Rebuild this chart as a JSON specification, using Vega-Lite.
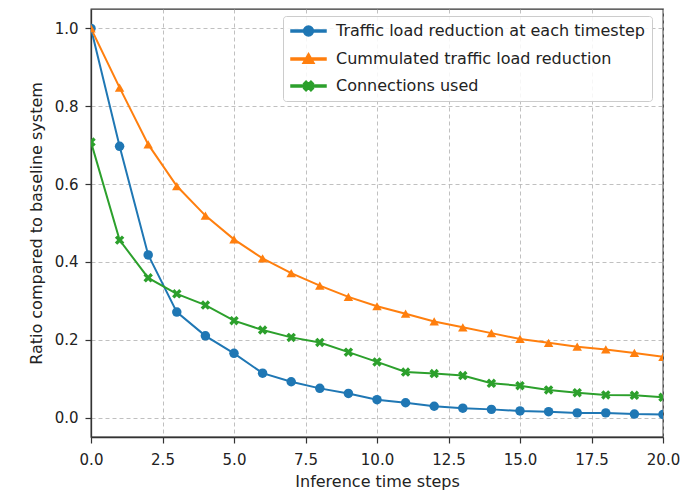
{
  "$schema": "https://vega.github.io/schema/vega-lite/v6.json",
  "autosize": "none",
  "width": 572,
  "height": 428,
  "padding": {"left": 91, "top": 9, "right": 35, "bottom": 53},
  "config": {
    "font": "DejaVu Sans",
    "view": {"stroke": "#333333", "strokeWidth": 1.3},
    "axis": {
      "labelFont": "DejaVu Sans", "titleFont": "DejaVu Sans",
      "labelFontSize": 15, "titleFontSize": 16,
      "labelColor": "#222222", "titleColor": "#222222",
      "titleFontWeight": "normal",
      "tickColor": "#333333", "tickSize": 6, "tickWidth": 1.2,
      "domainColor": "#333333", "domainWidth": 1.3,
      "gridColor": "#b0b0b0", "gridDash": [4, 3], "gridWidth": 0.8
    },
    "legend": {
      "labelFont": "DejaVu Sans", "labelFontSize": 16, "labelColor": "#222222"
    }
  },
  "data": {
    "values": [
      {"step": 0, "series": "Traffic load reduction at each timestep", "value": 1.0},
      {"step": 1, "series": "Traffic load reduction at each timestep", "value": 0.697},
      {"step": 2, "series": "Traffic load reduction at each timestep", "value": 0.418},
      {"step": 3, "series": "Traffic load reduction at each timestep", "value": 0.271},
      {"step": 4, "series": "Traffic load reduction at each timestep", "value": 0.21},
      {"step": 5, "series": "Traffic load reduction at each timestep", "value": 0.165},
      {"step": 6, "series": "Traffic load reduction at each timestep", "value": 0.114},
      {"step": 7, "series": "Traffic load reduction at each timestep", "value": 0.092},
      {"step": 8, "series": "Traffic load reduction at each timestep", "value": 0.075},
      {"step": 9, "series": "Traffic load reduction at each timestep", "value": 0.062},
      {"step": 10, "series": "Traffic load reduction at each timestep", "value": 0.046},
      {"step": 11, "series": "Traffic load reduction at each timestep", "value": 0.038},
      {"step": 12, "series": "Traffic load reduction at each timestep", "value": 0.029},
      {"step": 13, "series": "Traffic load reduction at each timestep", "value": 0.024},
      {"step": 14, "series": "Traffic load reduction at each timestep", "value": 0.021},
      {"step": 15, "series": "Traffic load reduction at each timestep", "value": 0.017},
      {"step": 16, "series": "Traffic load reduction at each timestep", "value": 0.015},
      {"step": 17, "series": "Traffic load reduction at each timestep", "value": 0.012},
      {"step": 18, "series": "Traffic load reduction at each timestep", "value": 0.012},
      {"step": 19, "series": "Traffic load reduction at each timestep", "value": 0.009},
      {"step": 20, "series": "Traffic load reduction at each timestep", "value": 0.008},
      {"step": 0, "series": "Cummulated traffic load reduction", "value": 1.0},
      {"step": 1, "series": "Cummulated traffic load reduction", "value": 0.848},
      {"step": 2, "series": "Cummulated traffic load reduction", "value": 0.702},
      {"step": 3, "series": "Cummulated traffic load reduction", "value": 0.595},
      {"step": 4, "series": "Cummulated traffic load reduction", "value": 0.519},
      {"step": 5, "series": "Cummulated traffic load reduction", "value": 0.458},
      {"step": 6, "series": "Cummulated traffic load reduction", "value": 0.409},
      {"step": 7, "series": "Cummulated traffic load reduction", "value": 0.371},
      {"step": 8, "series": "Cummulated traffic load reduction", "value": 0.339},
      {"step": 9, "series": "Cummulated traffic load reduction", "value": 0.31},
      {"step": 10, "series": "Cummulated traffic load reduction", "value": 0.286},
      {"step": 11, "series": "Cummulated traffic load reduction", "value": 0.267},
      {"step": 12, "series": "Cummulated traffic load reduction", "value": 0.247},
      {"step": 13, "series": "Cummulated traffic load reduction", "value": 0.232},
      {"step": 14, "series": "Cummulated traffic load reduction", "value": 0.217},
      {"step": 15, "series": "Cummulated traffic load reduction", "value": 0.202},
      {"step": 16, "series": "Cummulated traffic load reduction", "value": 0.192},
      {"step": 17, "series": "Cummulated traffic load reduction", "value": 0.182},
      {"step": 18, "series": "Cummulated traffic load reduction", "value": 0.175},
      {"step": 19, "series": "Cummulated traffic load reduction", "value": 0.166},
      {"step": 20, "series": "Cummulated traffic load reduction", "value": 0.156},
      {"step": 0, "series": "Connections used", "value": 0.708},
      {"step": 1, "series": "Connections used", "value": 0.456},
      {"step": 2, "series": "Connections used", "value": 0.359},
      {"step": 3, "series": "Connections used", "value": 0.318},
      {"step": 4, "series": "Connections used", "value": 0.289},
      {"step": 5, "series": "Connections used", "value": 0.249},
      {"step": 6, "series": "Connections used", "value": 0.225},
      {"step": 7, "series": "Connections used", "value": 0.206},
      {"step": 8, "series": "Connections used", "value": 0.193},
      {"step": 9, "series": "Connections used", "value": 0.168},
      {"step": 10, "series": "Connections used", "value": 0.143},
      {"step": 11, "series": "Connections used", "value": 0.117},
      {"step": 12, "series": "Connections used", "value": 0.113},
      {"step": 13, "series": "Connections used", "value": 0.108},
      {"step": 14, "series": "Connections used", "value": 0.088},
      {"step": 15, "series": "Connections used", "value": 0.082},
      {"step": 16, "series": "Connections used", "value": 0.071},
      {"step": 17, "series": "Connections used", "value": 0.064},
      {"step": 18, "series": "Connections used", "value": 0.058},
      {"step": 19, "series": "Connections used", "value": 0.057},
      {"step": 20, "series": "Connections used", "value": 0.052}
    ]
  },
  "encoding": {
    "x": {
      "field": "step", "type": "quantitative",
      "scale": {"domain": [0, 20], "nice": false, "zero": false},
      "axis": {"values": [0, 2.5, 5, 7.5, 10, 12.5, 15, 17.5, 20], "format": ".1f", "labelPadding": 9, "titlePadding": 6, "title": "Inference time steps", "labelFlush": false}
    },
    "y": {
      "field": "value", "type": "quantitative",
      "scale": {"domain": [-0.05, 1.05], "nice": false, "zero": false},
      "axis": {"values": [0, 0.2, 0.4, 0.6, 0.8, 1.0], "format": ".1f", "labelPadding": 7, "titlePadding": 10, "title": "Ratio compared to baseline system"}
    },
    "color": {
      "field": "series", "type": "nominal",
      "scale": {
        "domain": ["Traffic load reduction at each timestep", "Cummulated traffic load reduction", "Connections used"],
        "range": ["#1f77b4", "#ff7f0e", "#2ca02c"]
      },
      "legend": {
        "title": null,
        "orient": "none", "legendX": 192, "legendY": 7,
        "padding": 7,
        "fillColor": "rgba(255,255,255,0.85)",
        "strokeColor": "#cccccc",
        "cornerRadius": 3,
        "symbolSize": 196,
        "symbolOpacity": 1,
        "labelOffset": 30,
        "labelLimit": 400,
        "rowPadding": 11
      }
    }
  },
  "layer": [
    {
      "mark": {"type": "line", "strokeWidth": 2, "clip": true}
    },
    {
      "mark": {"type": "point", "filled": true, "opacity": 1, "size": 90, "clip": true},
      "encoding": {
        "shape": {
          "condition": [
            {"test": "datum.series === 'Traffic load reduction at each timestep'", "value": "circle"},
            {"test": "datum.series === 'Cummulated traffic load reduction'", "value": "triangle-up"}
          ],
          "value": "M-1,-0.5L-0.5,-1L0,-0.5L0.5,-1L1,-0.5L0.5,0L1,0.5L0.5,1L0,0.5L-0.5,1L-1,0.5L-0.5,0Z"
        }
      }
    },
    {
      "transform": [{"filter": "false"}],
      "mark": {"type": "point", "filled": true, "opacity": 1, "size": 196},
      "encoding": {
        "shape": {
          "field": "series", "type": "nominal",
          "scale": {
            "domain": ["Traffic load reduction at each timestep", "Cummulated traffic load reduction", "Connections used"],
            "range": [
              "M-1,-0.14L4,-0.14L4,0.14L-1,0.14ZM0.8,0A0.7,0.7 0 1,1 2.2,0A0.7,0.7 0 1,1 0.8,0Z",
              "M-1,-0.14L4,-0.14L4,0.14L-1,0.14ZM1.5,-0.8L2.3,0.6L0.7,0.6Z",
              "M-1,-0.14L4,-0.14L4,0.14L-1,0.14ZM0.8,-0.35L1.15,-0.7L1.5,-0.35L1.85,-0.7L2.2,-0.35L1.85,0L2.2,0.35L1.85,0.7L1.5,0.35L1.15,0.7L0.8,0.35L1.15,0Z"
            ]
          },
          "legend": {
            "title": null,
            "orient": "none", "legendX": 192, "legendY": 7,
            "padding": 7,
            "fillColor": "rgba(255,255,255,0.85)",
            "strokeColor": "#cccccc",
            "cornerRadius": 3,
            "symbolSize": 196,
            "symbolOpacity": 1,
            "labelOffset": 30,
            "labelLimit": 400,
            "rowPadding": 11
          }
        }
      }
    }
  ]
}
